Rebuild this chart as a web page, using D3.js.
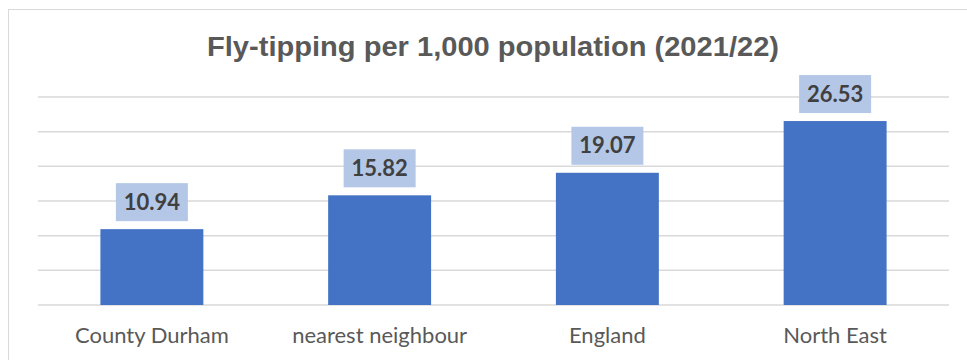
<!DOCTYPE html>
<html lang="en">
<head>
    <meta charset="UTF-8">
    <title>Fly-tipping per 1,000 population</title>
    <style>
        body { margin: 0; background: #fff; }
        .title { font: bold 27px "Liberation Sans", Arial, sans-serif; fill: #595959; }
        .cat { font: 22px Lato, sans-serif; fill: #595959; }
        .val { font: bold 22px Lato, sans-serif; fill: #404040; }
        .grid line { stroke: #d9d9d9; stroke-width: 1.5px; }
    </style>
    <script src="https://d3js.org/d3.v7.min.js"></script>
</head>
<body>
    <div id="chart"></div>
    <script>
        const categories = ["County Durham", "nearest neighbour", "England", "North East"];
        const values = [10.94, 15.82, 19.07, 26.53];
        const yTicks = [0, 5, 10, 15, 20, 25, 30];

        const width = 967, height = 360;
        const plot = { left: 38, right: 949, top: 97, bottom: 305 };

        const svg = d3.select("#chart").append("svg")
            .attr("width", width)
            .attr("height", height);

        // chart area border
        svg.append("rect")
            .attr("x", 8.5).attr("y", 9.5)
            .attr("width", 980).attr("height", 380)
            .attr("fill", "#fff")
            .attr("stroke", "#d9d9d9");

        svg.append("text")
            .attr("class", "title")
            .attr("x", 493).attr("y", 56)
            .attr("text-anchor", "middle")
            .attr("textLength", 572)
            .attr("lengthAdjust", "spacingAndGlyphs")
            .text("Fly-tipping per 1,000 population (2021/22)");

        const x = d3.scaleBand()
            .domain(categories)
            .range([plot.left, plot.right])
            .paddingInner(0.548)
            .paddingOuter(0.274);

        const y = d3.scaleLinear()
            .domain([0, 30])
            .range([plot.bottom, plot.top]);

        // gridlines
        svg.append("g")
            .attr("class", "grid")
            .selectAll("line")
            .data(yTicks)
            .join("line")
            .attr("x1", plot.left).attr("x2", plot.right)
            .attr("y1", d => y(d)).attr("y2", d => y(d));

        // bars
        svg.append("g")
            .selectAll("rect")
            .data(values)
            .join("rect")
            .attr("x", (d, i) => x(categories[i]))
            .attr("y", d => y(d))
            .attr("width", x.bandwidth())
            .attr("height", d => y(0) - y(d))
            .attr("fill", "#4472c4");

        // data labels with boxes
        const labels = svg.append("g")
            .selectAll("g")
            .data(values)
            .join("g")
            .attr("transform", (d, i) => `translate(${x(categories[i]) + x.bandwidth() / 2},${y(d) - 8})`);

        labels.append("rect")
            .attr("x", -36).attr("y", -38)
            .attr("width", 72).attr("height", 38)
            .attr("fill", "#b4c7e7");

        labels.append("text")
            .attr("class", "val")
            .attr("text-anchor", "middle")
            .attr("y", -11.5)
            .text(d => d.toFixed(2));

        // category labels
        svg.append("g")
            .selectAll("text")
            .data(categories)
            .join("text")
            .attr("class", "cat")
            .attr("text-anchor", "middle")
            .attr("x", d => x(d) + x.bandwidth() / 2)
            .attr("y", 343)
            .text(d => d);
    </script>
</body>
</html>
